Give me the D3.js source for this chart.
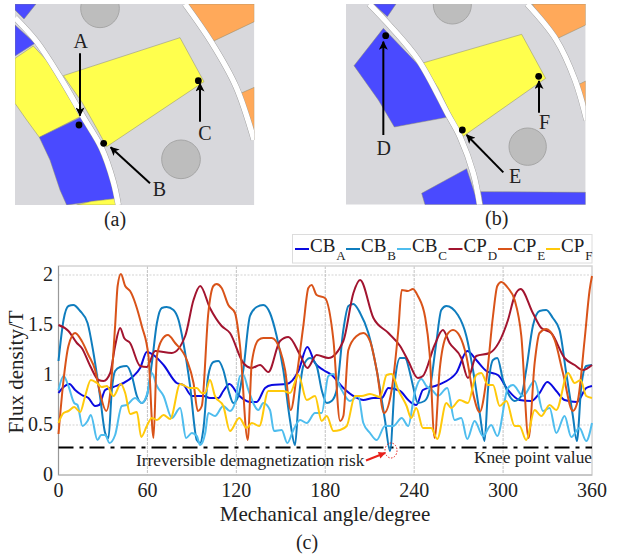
<!DOCTYPE html>
<html><head><meta charset="utf-8">
<script src="https://cdn.jsdelivr.net/npm/d3@7"></script>
<style>html,body{margin:0;padding:0;background:#fff}svg{display:block}text{font-family:"Liberation Serif",serif;fill:#222}</style>
</head><body><svg id="c" width="618" height="557"></svg>
<script>
const xTicks=[0,60,120,180,240,300,360];
const yTicks=[0,0.5,1,1.5,2];
const yTickLabels=["0","0.5","1","1.5","2"];
const kneeValue=0.275;
const seriesNames=[["CB","A"],["CB","B"],["CB","C"],["CP","D"],["CP","E"],["CP","F"]];
const seriesColors=["#0a0ae0","#0f7dbe","#4fbdee","#a2142f","#d95319","#ffc90a"];
const CBA=[[0,.82],[3.4,.88],[7.4,.91],[11.2,.85],[15.7,.8],[20.2,.77],[24.7,.69],[27.4,.7],[31.5,.85],[37,.88],[43.9,.92],[50.6,.99],[55.1,1.07],[59.6,1.23],[64.1,1.2],[70.9,1.1],[79.8,.92],[84.3,.9],[90,.79],[97.8,.79],[102.2,.77],[107.9,.77],[111.2,.84],[115.3,.91],[121.4,.8],[129.2,.73],[133.7,.73],[139.4,.87],[143.9,.9],[154,.91],[161.9,1.04],[167.9,1.28],[173.1,1.12],[178.7,1.05],[184.3,1],[192.2,.87],[200.1,.78],[205.7,.75],[212.5,.77],[218.1,.77],[222.6,.87],[230.5,.84],[236,.75],[241.4,.7],[245.9,.85],[256,.9],[268.4,1.02],[275.8,1.24],[281.9,1.15],[288.7,1.04],[296.5,1],[303.3,.85],[311.1,.75],[319,.74],[324.6,.82],[329.8,.93],[335.9,.84],[341.5,.75],[349.8,.73],[356.1,.87],[360,.89]];
const CBB=[[0,1.14],[3.4,1.55],[6.7,1.69],[10,1.7],[14.6,1.64],[19.6,1.52],[23.6,1.22],[28,.79],[31.5,.42],[33.7,.37],[36,.85],[38.2,1.04],[41.6,1.08],[46,1.09],[49.5,.99],[52.9,.79],[56.2,.72],[59.6,.79],[63,1.12],[66.4,1.52],[69.7,1.67],[73,1.68],[77.6,1.65],[81,1.55],[84.3,1.32],[88.8,.89],[93.3,.35],[95.6,.32],[97.7,.45],[101,.99],[104.5,1.13],[107.9,1.14],[111.2,1.05],[114.6,.85],[118,.72],[121.4,.79],[124.7,1.05],[129.2,1.59],[133.7,1.68],[138.2,1.7],[142.7,1.62],[147.2,1.39],[151.7,1.05],[156.2,.55],[159.6,.3],[161.9,.72],[165.2,1.09],[169.7,1.17],[174.2,1.09],[177.6,.85],[181,.72],[184.3,.74],[187.7,.85],[192.2,1.45],[195.6,1.69],[199,1.71],[203.5,1.62],[209.1,1.42],[214.7,1.05],[220.3,.55],[223.7,.24],[227.1,.95],[230.5,1.17],[233.8,1.17],[237.2,1.02],[239.2,.89],[242.5,.72],[247,.74],[250.4,.85],[254.9,1.32],[258.3,1.65],[261.7,1.69],[269.5,1.6],[275.2,1.39],[279.7,1.05],[284.2,.62],[287.5,.34],[289.8,.85],[293.2,1.15],[296.1,1.17],[300,.95],[303.3,.82],[307.8,.74],[312.3,.79],[315.6,1.05],[320.1,1.49],[324.6,1.64],[329.1,1.65],[333.6,1.57],[338.1,1.45],[342.6,1.02],[347.1,.59],[349.8,.34],[352.8,.89],[356.1,1.09],[360,1.1]];
const CBC=[[0,.85],[3.4,.99],[6.7,.89],[10.6,.72],[12.8,.7],[16.2,.49],[19.6,.54],[21.8,.6],[26.3,.35],[28.8,.4],[31.5,.4],[34.4,.32],[38.2,.4],[42.7,.69],[46,.7],[51.7,.77],[56.2,.72],[60,.82],[63,1.02],[66.4,.89],[70.9,.79],[76.5,.57],[82.1,.67],[86.1,.37],[90,.42],[93.3,.39],[95.6,.3],[99,.42],[101.1,.62],[105.6,.59],[111.2,.69],[115.7,.64],[119.1,.72],[122.5,.99],[124.7,1],[128.1,.85],[134.9,.65],[138.2,.72],[142.7,.65],[145.4,.44],[150.6,.45],[154.4,.32],[158.5,.45],[163,.55],[167.5,.52],[173.1,.62],[177.6,.62],[182.1,.99],[185.5,1.01],[191.1,.85],[196.7,.74],[202.3,.79],[205.7,.52],[210.2,.42],[214.7,.35],[220.3,.49],[225.9,.49],[231.6,.57],[236,.49],[240.3,.82],[244.8,.96],[248.2,.89],[252.7,.84],[256,.79],[262.3,.87],[267.3,.55],[271.8,.57],[275.8,.36],[280.8,.54],[286.4,.39],[292,.5],[296.1,.39],[303.3,.87],[306.6,.9],[313.4,.79],[321.3,.94],[326.9,.64],[331.4,.67],[335.9,.42],[341.5,.59],[346,.38],[351.6,.47],[356.1,.34],[360,.52]];
const CPD=[[0,1.5],[6.7,1.44],[12.4,1.32],[15.7,1.27],[21.4,1.09],[27,.95],[30.4,.94],[34.9,1.02],[38.2,1.29],[41.6,1.47],[44.3,1.37],[48.3,1.32],[55.1,1.09],[59.6,1.08],[65.2,1.24],[76.5,1.22],[85.5,1.39],[91.1,1.75],[95.6,1.89],[102.2,1.67],[110.1,1.49],[115.7,1.42],[124.7,1.12],[130.4,1.07],[136,1.1],[141.6,1.03],[149.5,1.34],[155.1,1.38],[163,1.2],[167.9,1.07],[174.2,1.2],[182.1,1.17],[192.2,1.34],[199,1.82],[203.5,1.95],[212.5,1.57],[222.6,1.42],[230.5,1.29],[236,1.14],[242.5,.97],[245.9,.99],[253.8,1.3],[259.4,1.45],[263.9,1.32],[271.8,1.17],[276.3,.97],[281.9,1.19],[290.9,1.22],[303.3,1.55],[307.8,1.79],[311.8,1.86],[320.1,1.62],[325.8,1.47],[332.5,1.42],[341.5,1.17],[348.3,1.1],[353.9,1.05],[360,1.1]];
const CPE=[[0,.41],[3.4,.95],[6.7,1.29],[11.2,1.42],[15.7,1.34],[20.2,1.2],[24.7,1.05],[28,.82],[32.2,.64],[34.9,.82],[38.2,1.49],[39.9,1.89],[42.1,2.01],[45,1.89],[48.3,1.84],[56.2,1.49],[60.7,1.19],[64.1,.37],[66.4,1.19],[69.7,1.35],[73.8,1.4],[78.7,1.32],[86.6,1.15],[91.1,.92],[94,.64],[96.7,.69],[101.1,1.62],[104.5,1.89],[106.7,1.91],[110.1,1.87],[114.6,1.7],[119.1,1.62],[122.5,1.29],[127.7,.35],[130.4,1.12],[134.9,1.35],[138.2,1.37],[143.9,1.37],[149.5,1.25],[152.9,1.05],[156.7,.65],[160.7,.99],[165.2,1.49],[168.6,1.87],[170.8,1.9],[174.2,1.8],[179.8,1.77],[185.5,1.35],[190,.54],[192.2,.59],[195.6,1.25],[201.2,1.39],[205.7,1.42],[210.2,1.34],[214.7,1.05],[219.7,.62],[224.8,.85],[229.3,1.45],[231.6,1.85],[235.8,1.84],[239.2,1.86],[242.5,1.79],[247.5,1.57],[250.4,1.22],[253.8,.37],[257.2,1.05],[261.7,1.39],[266.2,1.45],[270.7,1.39],[275.2,1.19],[279.7,.82],[284.2,.63],[288.7,.95],[293.2,1.59],[296.1,1.89],[298.8,1.93],[303.3,1.87],[307.8,1.75],[312.3,1.39],[317.2,.37],[321.3,1.12],[324.6,1.42],[329.1,1.46],[334.8,1.35],[340.4,1.02],[347.1,.64],[350.5,.75],[355,1.35],[358.4,1.85],[360,1.99]];
const CPF=[[0,.52],[3.4,.62],[6.7,.64],[10.6,.68],[14.6,.63],[18,.79],[21.8,.95],[25.9,.92],[29.2,.88],[32.6,.89],[37.1,.79],[42.1,.91],[45,.82],[48.4,.61],[52.9,.63],[55.8,.38],[59.6,.49],[63,.57],[66.4,.55],[70.9,.6],[75.4,.56],[82.1,.91],[88.8,.87],[93.3,.87],[96.7,.82],[98.9,.82],[102.2,.95],[105.6,.79],[111.2,.69],[115.7,.44],[122,.57],[127,.47],[130.4,.52],[135.5,.49],[141.6,.84],[151.7,.84],[156.2,.82],[161.9,1],[167.5,.75],[173.1,.79],[177.6,.54],[181,.59],[185.5,.44],[190,.45],[194.5,.49],[200.1,.79],[204.6,.79],[210.2,.81],[217,.78],[221.4,1],[224.8,1.01],[229.3,.85],[234.9,.69],[238,.57],[241.4,.67],[245.9,.47],[251.5,.47],[255.6,.36],[261.7,.72],[265,.67],[270.7,.75],[276.3,.72],[281.9,1],[285.3,1.02],[289.8,.9],[293.2,.9],[297.7,.69],[302.2,.74],[307.8,.49],[311.1,.49],[315.6,.35],[321.3,.65],[325.8,.59],[331.4,.7],[335.9,.65],[343.8,1.02],[348.3,.92],[352.3,.95],[356.1,.79],[360,.77]];
const allSeries=[CBA,CBB,CBC,CPD,CPE,CPF];

const svg=d3.select("#c");
const L=58.5,R=592,T=266,B=475;
const x=d3.scaleLinear().domain([0,360]).range([L,R]);
const y=d3.scaleLinear().domain([0,2]).range([B,275]);

// ---- motor cross-section panels ----
const GRAY="#d8d8dc",BLUE="#4a4aff",YEL="#ffff4d",ORG="#ffa95a",WHITE="#fff";
const panelA={box:[45,12,763,615],offset:0,
 shapes:[
 [BLUE,[[45,12],[108,12],[72,57],[45,30]]],
 [BLUE,[[45,75],[105,130],[45,168]]],
 [YEL,[[45,175],[100,138],[190,235],[250,345],[118,412],[80,360],[45,310]]],
 [BLUE,[[118,412],[245,350],[310,460],[350,595],[200,615],[180,570],[150,480]]],
 [YEL,[[275,604],[345,596],[350,615],[230,615]]],
 [ORG,[[565,12],[763,12],[763,65],[637,125],[605,70]]],
 [ORG,[[715,283],[763,262],[763,420],[745,345]]],
 [YEL,[[190,227],[540,113],[612,245],[320,440],[290,385],[245,305]]]],
 bands:[[[45,53],[110,125],[178,228],[248,348],[305,445],[340,545],[355,615]],
        [[555,12],[635,128],[708,260],[762,420]]],
 circles:[[300,25,58],[543,478,58]],
 dots:[[237,375],[311,430],[595,242]],
 arrows:[[240,160,240,347],[450,550,332,442],[600,365,600,250]],
 labels:[["A",242,143],["B",478,588],["C",615,421]],
 cap:["(a)",345,678]};
const panelB={box:[108,12,827,614],offset:310,
 shapes:[
 [BLUE,[[190,12],[258,12],[232,50]]],
 [BLUE,[[220,85],[132,197],[205,300],[253,381],[410,352],[340,210]]],
 [BLUE,[[335,580],[470,506],[505,614],[345,614]]],
 [BLUE,[[512,575],[827,577],[827,614],[518,614]]],
 [ORG,[[667,12],[827,12],[827,75],[733,120],[700,70]]],
 [ORG,[[803,255],[827,243],[827,330],[815,285]]],
 [YEL,[[335,190],[635,103],[707,235],[458,410],[420,340],[385,265]]]],
 bands:[[[178,12],[235,72],[325,180],[415,345],[450,410],[490,520],[509,614]],
        [[652,12],[738,118],[795,240],[830,360]]],
 circles:[[427,15,57],[653,440,56]],
 dots:[[227,107],[457,390],[686,229]],
 arrows:[[220,405,220,125],[580,517,470,405],[687,338,687,243]],
 labels:[["D",221,466],["E",615,550],["F",704,388]],
 cap:["(b)",560,676]};
const defs=svg.append("defs");
defs.append("marker").attr("id","ah").attr("viewBox","0 0 10 10").attr("refX",9).attr("refY",5)
 .attr("markerWidth",11).attr("markerHeight",9).attr("markerUnits","userSpaceOnUse").attr("orient","auto")
 .append("path").attr("d","M0,0L10,5L0,10L2.5,5Z").attr("fill","#000");
defs.append("marker").attr("id","rh").attr("viewBox","0 0 10 10").attr("refX",9).attr("refY",5)
 .attr("markerWidth",9).attr("markerHeight",7).attr("markerUnits","userSpaceOnUse").attr("orient","auto")
 .append("path").attr("d","M0,0L10,5L0,10Z").attr("fill","#e8201a");
[panelA,panelB].forEach((p,i)=>{
 const sx=d3.scaleLinear().domain([0,3]).range([p.offset,p.offset+1]);
 const sy=d3.scaleLinear().domain([0,3]).range([0,1]);
 const ln=d3.line().x(d=>sx(d[0])).y(d=>sy(d[1]));
 const cv=d3.line().x(d=>sx(d[0])).y(d=>sy(d[1])).curve(d3.curveCatmullRom);
 const [a,b,c,d]=p.box;
 const cid="clip"+i;
 defs.append("clipPath").attr("id",cid).append("rect").attr("x",sx(a)).attr("y",sy(b)).attr("width",sx(c)-sx(a)).attr("height",sy(d)-sy(b));
 const g=svg.append("g").attr("clip-path",`url(#${cid})`);
 g.append("rect").attr("x",sx(a)).attr("y",sy(b)).attr("width",sx(c)-sx(a)).attr("height",sy(d)-sy(b)).attr("fill",GRAY);
 p.shapes.forEach(s=>g.append("path").attr("d",ln(s[1])+"Z").attr("fill",s[0]).attr("stroke","#8a8a70").attr("stroke-width",.5));
 p.circles.forEach(s=>g.append("circle").attr("cx",sx(s[0])).attr("cy",sy(s[1])).attr("r",s[2]/3).attr("fill","#bdbdbd").attr("stroke","#a6a6a6").attr("stroke-width",1));
 p.bands.forEach(s=>{
  g.append("path").attr("d",cv(s)).attr("fill","none").attr("stroke","#9a9a9a").attr("stroke-width",6.2);
  g.append("path").attr("d",cv(s)).attr("fill","none").attr("stroke",WHITE).attr("stroke-width",5.4);
 });
 p.dots.forEach(s=>svg.append("circle").attr("cx",sx(s[0])).attr("cy",sy(s[1])).attr("r",3.4).attr("fill","#000"));
 p.arrows.forEach(s=>svg.append("line").attr("x1",sx(s[0])).attr("y1",sy(s[1])).attr("x2",sx(s[2])).attr("y2",sy(s[3])).attr("stroke","#000").attr("stroke-width",2).attr("marker-end","url(#ah)"));
 p.labels.forEach(s=>svg.append("text").attr("x",sx(s[1])).attr("y",sy(s[2])).attr("text-anchor","middle").attr("font-size",20).text(s[0]));
 svg.append("text").attr("x",sx(p.cap[1])).attr("y",sy(p.cap[2])).attr("text-anchor","middle").attr("font-size",20).text(p.cap[0]);
});

// ---- chart ----
svg.append("g").selectAll("line").data(yTicks.slice(1)).join("line")
 .attr("x1",L).attr("x2",R).attr("y1",d=>y(d)).attr("y2",d=>y(d))
 .attr("stroke","#c8c8c8").attr("stroke-width",.8).attr("stroke-dasharray","2,1.5");
svg.append("g").selectAll("line").data(xTicks.slice(1,-1)).join("line")
 .attr("x1",d=>x(d)).attr("x2",d=>x(d)).attr("y1",T).attr("y2",B)
 .attr("stroke","#b4b4b4").attr("stroke-width",.8).attr("stroke-dasharray","3,1");
svg.append("rect").attr("x",L).attr("y",T).attr("width",R-L).attr("height",B-T).attr("fill","none").attr("stroke","#d4d4d4").attr("stroke-width",1.5);
svg.append("line").attr("x1",L).attr("x2",L).attr("y1",T).attr("y2",B).attr("stroke","#999").attr("stroke-width",1);
svg.append("line").attr("x1",L).attr("x2",R).attr("y1",B).attr("y2",B).attr("stroke","#b0b0b0").attr("stroke-width",1);

svg.append("line").attr("x1",L).attr("x2",R).attr("y1",y(kneeValue)).attr("y2",y(kneeValue))
 .attr("stroke","#000").attr("stroke-width",2).attr("stroke-dasharray","15,6,4,6");

const line=d3.line().x(d=>x(d[0])).y(d=>y(d[1])).curve(d3.curveMonotoneX);
svg.append("g").selectAll("path").data(allSeries).join("path")
 .attr("d",line).attr("fill","none").attr("stroke",(d,i)=>seriesColors[i]).attr("stroke-width",2).attr("stroke-linejoin","round");

const fmtX=d=>String(d);
svg.append("g").selectAll("text").data(xTicks).join("text").attr("x",d=>x(d)).attr("y",497).attr("text-anchor","middle").attr("font-size",20).text(fmtX);
svg.append("g").selectAll("text").data(yTicks).join("text").attr("x",53).attr("y",d=>y(d)+6).attr("text-anchor","end").attr("font-size",20).text((d,i)=>yTickLabels[i]);
svg.append("text").attr("transform","translate(23,372) rotate(-90)").attr("text-anchor","middle").attr("font-size",21).text("Flux density/T");
svg.append("text").attr("x",325).attr("y",521).attr("text-anchor","middle").attr("font-size",21).text("Mechanical angle/degree");
svg.append("text").attr("x",307).attr("y",549).attr("text-anchor","middle").attr("font-size",20).text("(c)");
svg.append("text").attr("x",136).attr("y",466).attr("font-size",17.3).text("Irreversible demagnetization risk");
svg.append("text").attr("x",592).attr("y",463).attr("text-anchor","end").attr("font-size",17.3).text("Knee point value");
svg.append("line").attr("x1",366).attr("y1",460.5).attr("x2",385).attr("y2",453).attr("stroke","#e8201a").attr("stroke-width",2).attr("marker-end","url(#rh)");
svg.append("ellipse").attr("cx",391).attr("cy",450.5).attr("rx",6).attr("ry",7.5).attr("fill","none").attr("stroke","#e8201a").attr("stroke-width",1).attr("stroke-dasharray","1.5,1.5");

// ---- legend ----
svg.append("rect").attr("x",292.5).attr("y",234.5).attr("width",299.5).attr("height",28.5).attr("fill","#fff").attr("stroke","#dcdcdc").attr("stroke-width",1);
const legX=[295,346,397,448.5,498,546];
seriesNames.forEach((n,i)=>{
 const lx=legX[i];
 svg.append("line").attr("x1",lx).attr("x2",lx+14).attr("y1",249).attr("y2",249).attr("stroke",seriesColors[i]).attr("stroke-width",2);
 const t=svg.append("text").attr("x",lx+15).attr("y",252).attr("font-size",19);
 t.append("tspan").text(n[0]);
 t.append("tspan").attr("dy",8).attr("dx",1).attr("font-size",13).text(n[1]);
});
</script></body></html>
